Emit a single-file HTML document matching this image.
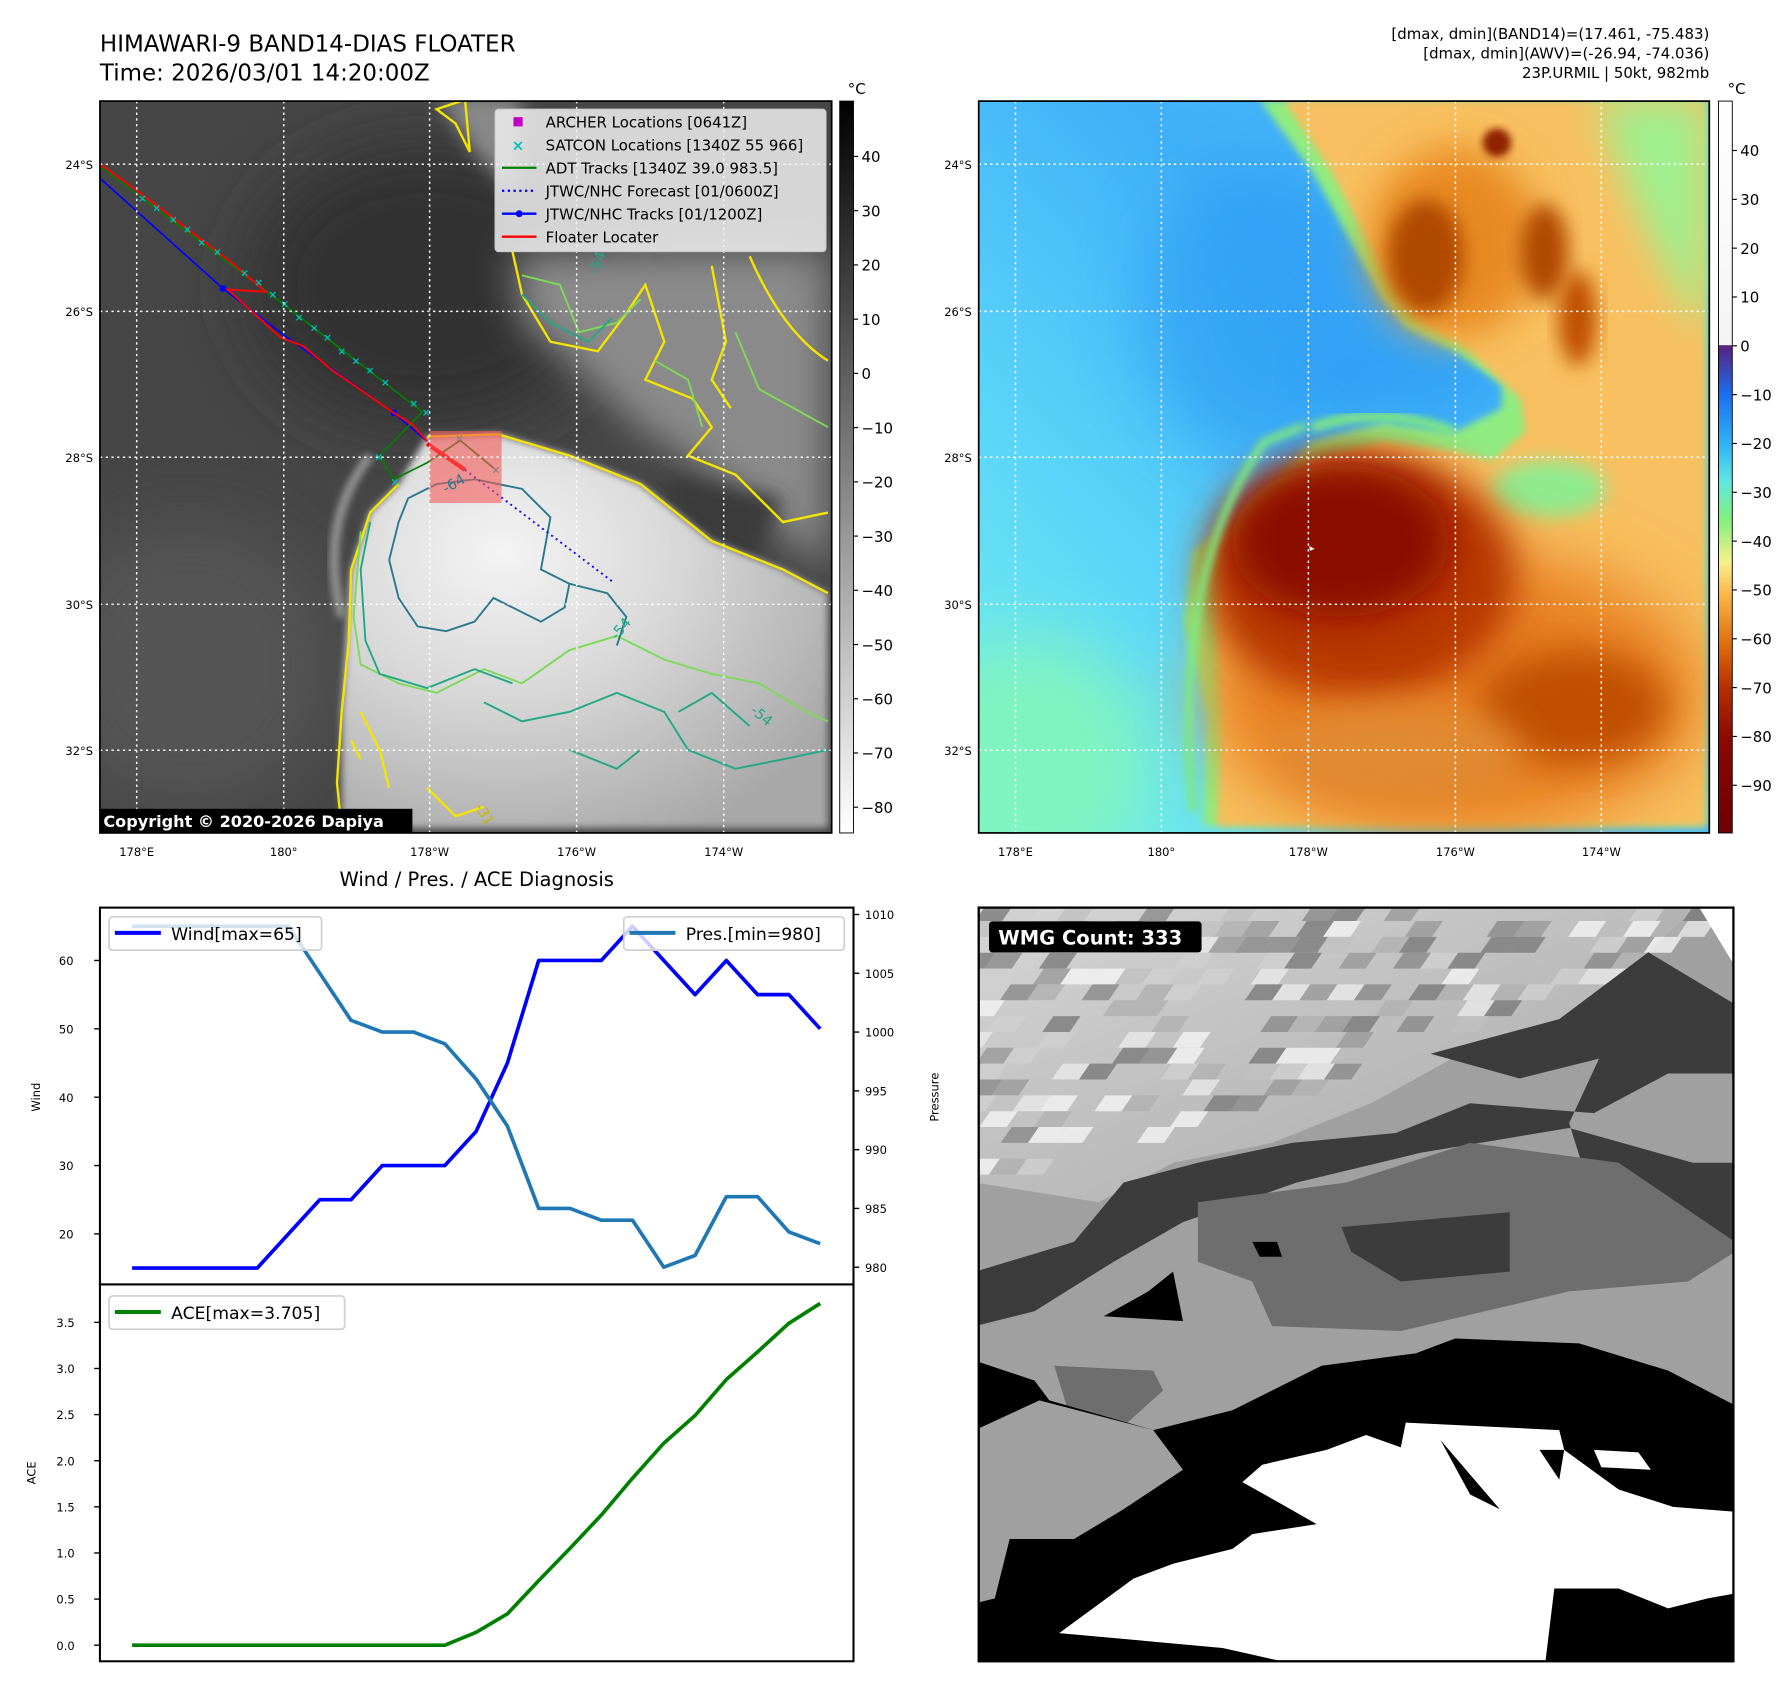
<!DOCTYPE html>
<html><head><meta charset="utf-8">
<style>
html,body{margin:0;padding:0;background:#fff;}
svg{display:block;font-family:"DejaVu Sans","Liberation Sans",sans-serif;}
</style></head>
<body>
<svg id="root" width="1792" height="1690" viewBox="0 0 1560 1471" preserveAspectRatio="none" xmlns="http://www.w3.org/2000/svg">
<defs>
  <filter id="b8" x="-20%" y="-20%" width="140%" height="140%"><feGaussianBlur stdDeviation="8"/></filter>
  <filter id="b20" x="-30%" y="-30%" width="160%" height="160%"><feGaussianBlur stdDeviation="20"/></filter>
  <filter id="b40" x="-30%" y="-30%" width="160%" height="160%"><feGaussianBlur stdDeviation="40"/></filter>
  <filter id="b70" x="-40%" y="-40%" width="180%" height="180%"><feGaussianBlur stdDeviation="70"/></filter>
  <clipPath id="clipL"><rect x="87" y="88" width="637" height="637"/></clipPath>
  <clipPath id="clipR"><rect x="852" y="88" width="636" height="637"/></clipPath>
  <clipPath id="clipW"><rect x="852" y="790" width="657" height="656"/></clipPath>
  <clipPath id="clipTop"><rect x="87" y="790" width="656" height="328"/></clipPath>
  <clipPath id="clipBot"><rect x="87" y="1118" width="656" height="328"/></clipPath>
  <linearGradient id="cbGray" x1="0" y1="0" x2="0" y2="1">
    <stop offset="0" stop-color="#000"/><stop offset="1" stop-color="#fff"/>
  </linearGradient>
  <linearGradient id="cbColor" x1="0" y1="0" x2="0" y2="1">
    <stop offset="0" stop-color="#ffffff"/><stop offset="0.333" stop-color="#f4f4f4"/>
    <stop offset="0.334" stop-color="#5a2080"/>
    <stop offset="0.40" stop-color="#1a6ef0"/>
    <stop offset="0.47" stop-color="#30b4f8"/>
    <stop offset="0.52" stop-color="#60e8e0"/>
    <stop offset="0.57" stop-color="#80f080"/>
    <stop offset="0.63" stop-color="#f8f088"/>
    <stop offset="0.68" stop-color="#f8b040"/>
    <stop offset="0.74" stop-color="#e07010"/>
    <stop offset="0.80" stop-color="#b83000"/>
    <stop offset="0.87" stop-color="#8c0800"/>
    <stop offset="1" stop-color="#700000"/>
  </linearGradient>
  <radialGradient id="stormGray" cx="0.33" cy="0.3" r="0.8">
    <stop offset="0" stop-color="#f4f4f4"/><stop offset="0.45" stop-color="#d8d8d8"/><stop offset="1" stop-color="#a8a8a8"/>
  </radialGradient>
  <linearGradient id="blueBg" x1="0" y1="1" x2="1" y2="0">
    <stop offset="0" stop-color="#78f4e8"/><stop offset="0.3" stop-color="#5ad4f8"/><stop offset="0.6" stop-color="#40b0f8"/><stop offset="1" stop-color="#50bcf8"/>
  </linearGradient>
  <linearGradient id="wmgLight" x1="0" y1="0" x2="1" y2="1">
    <stop offset="0" stop-color="#d6d6d6"/><stop offset="0.5" stop-color="#bdbdbd"/><stop offset="1" stop-color="#a8a8a8"/>
  </linearGradient>
</defs>

<!-- Titles -->
<text x="87" y="45" font-size="20" fill="#000">HIMAWARI-9 BAND14-DIAS FLOATER</text>
<text x="87" y="70" font-size="20" fill="#000">Time: 2026/03/01 14:20:00Z</text>
<g font-size="13" text-anchor="end" fill="#000">
  <text x="1488" y="34">[dmax, dmin](BAND14)=(17.461, -75.483)</text>
  <text x="1488" y="51">[dmax, dmin](AWV)=(-26.94, -74.036)</text>
  <text x="1488" y="68">23P.URMIL | 50kt, 982mb</text>
</g>

<!-- LEFT MAP -->
<g clip-path="url(#clipL)">
  <rect x="87" y="88" width="637" height="637" fill="#464646"/>
  <g transform="translate(82.7,82.7) scale(0.413)">
    <ellipse cx="700" cy="400" rx="380" ry="300" fill="#303030" filter="url(#b70)"/>
    <ellipse cx="200" cy="1200" rx="300" ry="300" fill="#555" filter="url(#b70)"/>
    <path d="M880,330 L1545,330 L1545,1000 L1300,800 L1150,700 L1000,560 L900,480 Z" fill="#8a8a8a" filter="url(#b40)"/>
    <path d="M720,0 L900,0 L880,200 L800,120Z" fill="#888" filter="url(#b20)"/>
    <path d="M1200,800 L1450,850 L1380,1000 L1200,900Z" fill="#3a3a3a" filter="url(#b20)"/>
    <path d="M700,720 L850,715 L1000,760 L1150,820 L1300,940 L1450,1000 L1545,1050 L1545,1545 L520,1545 L520,1300 L540,1000 L580,880 L640,820 Z" fill="url(#stormGray)" filter="url(#b8)"/>
    <path d="M580,760 Q470,900 520,1100" stroke="#9a9a9a" stroke-width="18" fill="none" filter="url(#b8)"/>
    <path d="M700,720 L850,715 L1000,760 L1150,820 L1300,940 L1450,1000 L1545,1050" stroke="#f4e400" stroke-width="5" fill="none"/>
    <path d="M640,820 L580,880 L540,1000 L535,1150 L520,1300 L510,1450 L520,1545" stroke="#f4e400" stroke-width="5" fill="none"/>
    <path d="M720,30 L780,10 L790,120 L760,60 Z M880,330 L900,420 L960,520 L1060,540 L1120,460 L1160,400 L1200,520 L1160,600 L1260,640 L1300,700 L1250,760 L1350,800 L1450,900 L1545,880" stroke="#f4e400" stroke-width="5" fill="none"/>
    <path d="M1380,340 Q1450,500 1545,560 M1300,360 L1330,520 L1300,600 L1340,660" stroke="#f4e400" stroke-width="5" fill="none"/>
    <path d="M560,1300 L600,1380 L620,1460 M540,1360 L560,1400 M700,1460 L760,1520 L820,1500" stroke="#f4e400" stroke-width="5" fill="none"/>
    <path d="M560,920 L545,1100 L560,1200 L640,1240 L720,1260 L820,1210 L900,1240 L1000,1170 L1100,1140 L1200,1190 L1300,1220 L1400,1240 L1500,1300 L1545,1320" stroke="#7ed957" stroke-width="4" fill="none"/>
    <path d="M900,380 L980,400 L1020,500 L1100,480 L1150,430 M1180,560 L1250,600 L1280,700 M1350,500 L1400,620 L1545,700" stroke="#7ed957" stroke-width="4" fill="none"/>
    <path d="M580,900 L560,1000 L570,1150 L600,1220 L700,1250 L800,1210 L880,1240 M820,1280 L900,1320 L1000,1300 L1100,1260 L1200,1300 L1250,1380 L1350,1420 L1450,1400 L1545,1380 M900,420 L960,480 L1040,520 L1090,470 M1000,1380 L1100,1420 L1150,1380 M1230,1300 L1300,1260 L1380,1330" stroke="#22a884" stroke-width="4" fill="none"/>
    <path d="M660,850 L720,820 L800,810 L900,830 L960,890 L940,1000 L1000,1030 L990,1080 L940,1110 L840,1060 L800,1110 L740,1130 L680,1120 L640,1060 L620,980 L640,900 Z" stroke="#2a788e" stroke-width="4" fill="none"/>
    <path d="M1000,1030 L1080,1050 L1120,1100 L1100,1160" stroke="#2a788e" stroke-width="4" fill="none"/>
    <path d="M10,175 L270,408 L390,500 L630,670 L700,730" stroke="#0000ff" stroke-width="3.5" fill="none"/>
    <circle cx="270" cy="408" r="7" fill="#0000ff"/><circle cx="630" cy="670" r="7" fill="#0000ff"/>
    <path d="M10,150 L370,420 L690,668 L600,760 L630,810 L700,775 L770,728 L845,790" stroke="#008000" stroke-width="3.5" fill="none"/>
    <path d="M10,145 L100,210 L290,355 L360,415 L280,410 L390,510 L440,530 L500,580 L630,670 L670,695 L700,730" stroke="#ff0000" stroke-width="4" fill="none"/>
    <path d="M700,735 L780,790" stroke="#ff0000" stroke-width="9"/>
    <path d="M780,790 L1090,1025" stroke="#0000ff" stroke-width="4" stroke-dasharray="4,8" fill="none"/>
    <g fill="#00bfbf" font-size="22" font-weight="bold" text-anchor="middle">
      <text x="100" y="226">×</text><text x="130" y="246">×</text><text x="165" y="270">×</text><text x="195" y="291">×</text><text x="225" y="318">×</text><text x="258" y="338">×</text><text x="315" y="383">×</text><text x="345" y="403">×</text><text x="375" y="428">×</text><text x="400" y="448">×</text><text x="430" y="476">×</text><text x="462" y="498">×</text><text x="490" y="518">×</text><text x="520" y="548">×</text><text x="550" y="568">×</text><text x="580" y="588">×</text><text x="612" y="613">×</text><text x="672" y="658">×</text><text x="698" y="676">×</text><text x="598" y="770">×</text><text x="632" y="823">×</text><text x="768" y="730">×</text><text x="845" y="798">×</text>
    </g>
    <rect x="705" y="708" width="152" height="152" fill="rgba(245,90,90,0.6)"/>
    <text x="740" y="840" font-size="30" fill="#2a788e" transform="rotate(-30 740 840)">-64</text>
    <text x="1060" y="380" font-size="30" fill="#22a884" transform="rotate(-70 1060 380)">-54</text>
    <text x="1100" y="1150" font-size="30" fill="#22a884" transform="rotate(-50 1100 1150)">-54</text>
    <text x="1380" y="1300" font-size="30" fill="#22a884" transform="rotate(40 1380 1300)">-54</text>
    <text x="800" y="1500" font-size="30" fill="#c8b400" transform="rotate(60 800 1500)">-31</text>
  </g>
  <g stroke="#fff" stroke-width="1.3" stroke-dasharray="2,3">
    <line x1="87" x2="724" y1="143" y2="143"/><line x1="87" x2="724" y1="271" y2="271"/><line x1="87" x2="724" y1="398" y2="398"/><line x1="87" x2="724" y1="526" y2="526"/><line x1="87" x2="724" y1="653" y2="653"/>
    <line y1="88" y2="725" x1="119" x2="119"/><line y1="88" y2="725" x1="247" x2="247"/><line y1="88" y2="725" x1="374" x2="374"/><line y1="88" y2="725" x1="502" x2="502"/><line y1="88" y2="725" x1="630" x2="630"/>
  </g>
  <g>
    <rect x="431" y="95" width="288" height="124" rx="3" fill="rgba(240,240,240,0.85)" stroke="#ccc"/>
    <rect x="447" y="102" width="8" height="8" fill="#c000c0"/>
    <text x="451" y="131" font-size="13" font-weight="bold" fill="#00bfbf" text-anchor="middle">×</text>
    <line x1="437" x2="467" y1="146" y2="146" stroke="#008000" stroke-width="2"/>
    <line x1="437" x2="467" y1="166" y2="166" stroke="#0000ff" stroke-width="2" stroke-dasharray="2,3"/>
    <line x1="437" x2="467" y1="186" y2="186" stroke="#0000ff" stroke-width="2"/><circle cx="452" cy="186" r="3" fill="#0000ff"/>
    <line x1="437" x2="467" y1="206" y2="206" stroke="#ff0000" stroke-width="2"/>
    <g font-size="13" fill="#000">
      <text x="475" y="111">ARCHER Locations [0641Z]</text>
      <text x="475" y="131">SATCON Locations [1340Z 55 966]</text>
      <text x="475" y="151">ADT Tracks [1340Z 39.0 983.5]</text>
      <text x="475" y="171">JTWC/NHC Forecast [01/0600Z]</text>
      <text x="475" y="191">JTWC/NHC Tracks [01/1200Z]</text>
      <text x="475" y="211">Floater Locater</text>
    </g>
  </g>
  <rect x="87" y="704" width="272" height="22" fill="#000"/>
  <text x="90" y="720" font-size="14" font-weight="bold" fill="#fff">Copyright © 2020-2026 Dapiya</text>
</g>
<rect x="87" y="88" width="637" height="637" fill="none" stroke="#000" stroke-width="1.5"/>

<g font-size="10" text-anchor="end" fill="#000">
  <text x="81" y="147">24°S</text><text x="81" y="275">26°S</text><text x="81" y="402">28°S</text><text x="81" y="530">30°S</text><text x="81" y="657">32°S</text>
</g>
<g font-size="10" text-anchor="middle" fill="#000">
  <text x="119" y="745">178°E</text><text x="247" y="745">180°</text><text x="374" y="745">178°W</text><text x="502" y="745">176°W</text><text x="630" y="745">174°W</text>
</g>
<g>
  <rect x="731" y="88" width="12" height="637" fill="url(#cbGray)" stroke="#000" stroke-width="0.8"/>
  <text x="738" y="82" font-size="13">°C</text>
  <g id="cbLticks" font-size="13" fill="#000"></g>
</g>

<!-- RIGHT MAP -->
<g clip-path="url(#clipR)">
  <rect x="852" y="88" width="636" height="637" fill="url(#blueBg)"/>
  <g transform="translate(853,87) scale(0.413)">
    <ellipse cx="600" cy="450" rx="260" ry="320" fill="#2a98f4" filter="url(#b70)" opacity="0.6"/>
    <ellipse cx="900" cy="580" rx="200" ry="80" fill="#2a98f4" filter="url(#b40)" opacity="0.5"/>
    <ellipse cx="100" cy="1400" rx="260" ry="260" fill="#80f4c0" filter="url(#b70)"/>
    <path d="M590,0 L1530,0 L1530,1530 L470,1530 L480,1300 L430,1100 L450,950 L520,900 L600,820 L700,720 L850,680 L1000,700 L1100,650 L1100,600 L1000,530 L900,480 L850,420 L800,330 L700,150 Z" fill="#90ec80" filter="url(#b8)"/>
    <path d="M640,0 L1530,0 L1530,1530 L500,1530 L510,1300 L500,1100 L520,940 L600,860 L700,760 L850,720 L1000,740 L1080,760 L1150,700 L1140,630 L1020,520 L930,470 L880,400 L830,320 L740,150 Z" fill="#f8c060" filter="url(#b8)"/>
    <path d="M1300,0 L1530,0 L1530,500 Q1400,300 1300,0Z" fill="#a0f090" filter="url(#b40)"/>
    <ellipse cx="1200" cy="820" rx="120" ry="60" fill="#90ec90" filter="url(#b20)"/>
    <ellipse cx="1000" cy="300" rx="180" ry="200" fill="#e88a20" filter="url(#b40)"/>
    <ellipse cx="940" cy="330" rx="80" ry="120" fill="#b04800" filter="url(#b20)"/>
    <ellipse cx="1190" cy="320" rx="50" ry="100" fill="#b04800" filter="url(#b20)"/>
    <ellipse cx="1090" cy="90" rx="30" ry="30" fill="#902000" filter="url(#b8)"/>
    <ellipse cx="1260" cy="460" rx="40" ry="100" fill="#c05000" filter="url(#b20)"/>
    <ellipse cx="1000" cy="1250" rx="520" ry="300" fill="#e88020" filter="url(#b70)"/>
    <ellipse cx="1250" cy="1280" rx="200" ry="120" fill="#c05000" filter="url(#b40)"/>
    <ellipse cx="800" cy="1000" rx="330" ry="260" fill="#b83800" filter="url(#b40)"/>
    <ellipse cx="760" cy="930" rx="230" ry="160" fill="#8a0800" filter="url(#b40)"/>
    <ellipse cx="880" cy="1380" rx="260" ry="100" fill="#e08a30" filter="url(#b40)"/>
    <path d="M450,1500 Q400,1000 600,720 Q700,680 680,690" stroke="#80e880" stroke-width="16" fill="none" filter="url(#b8)"/>
    <path d="M700,690 Q850,640 1000,700" stroke="#80e880" stroke-width="20" fill="none" filter="url(#b8)"/>
    <path d="M694,940 l12,6 -10,4z" fill="#fff"/>
  </g>
  <g stroke="#fff" stroke-width="1.3" stroke-dasharray="2,3">
    <line x1="852" x2="1488" y1="143" y2="143"/><line x1="852" x2="1488" y1="271" y2="271"/><line x1="852" x2="1488" y1="398" y2="398"/><line x1="852" x2="1488" y1="526" y2="526"/><line x1="852" x2="1488" y1="653" y2="653"/>
    <line y1="88" y2="725" x1="884" x2="884"/><line y1="88" y2="725" x1="1011" x2="1011"/><line y1="88" y2="725" x1="1139" x2="1139"/><line y1="88" y2="725" x1="1267" x2="1267"/><line y1="88" y2="725" x1="1394" x2="1394"/>
  </g>
</g>
<rect x="852" y="88" width="636" height="637" fill="none" stroke="#000" stroke-width="1.5"/>
<g font-size="10" text-anchor="end" fill="#000">
  <text x="846" y="147">24°S</text><text x="846" y="275">26°S</text><text x="846" y="402">28°S</text><text x="846" y="530">30°S</text><text x="846" y="657">32°S</text>
</g>
<g font-size="10" text-anchor="middle" fill="#000">
  <text x="884" y="745">178°E</text><text x="1011" y="745">180°</text><text x="1139" y="745">178°W</text><text x="1267" y="745">176°W</text><text x="1394" y="745">174°W</text>
</g>
<g>
  <rect x="1496" y="88" width="12" height="637" fill="url(#cbColor)" stroke="#000" stroke-width="0.8"/>
  <text x="1504" y="82" font-size="13">°C</text>
  <g id="cbRticks" font-size="13" fill="#000"></g>
</g>

<!-- DIAGNOSIS CHART -->
<text x="415" y="771" font-size="17" text-anchor="middle">Wind / Pres. / ACE Diagnosis</text>
<g id="chartTop"></g>
<g id="chartBot"></g>

<!-- WMG -->
<g clip-path="url(#clipW)">
  <rect x="852" y="790" width="657" height="656" fill="#a0a0a0"/>
  <g transform="translate(848.8,787.9) scale(0.431)">
    <path d="M0,0 L1460,0 L1360,95 L1200,230 L1000,290 L800,400 L600,480 L400,520 L250,600 L0,560 Z" fill="url(#wmgLight)"/>
    <g id="wmgCells"></g>
    <path d="M1360,95 L1535,200 L1535,340 L1400,340 L1250,420 L1000,400 L850,460 L640,480 L450,520 L300,560 L200,680 L0,740 L0,850 L120,820 L280,720 L420,640 L650,560 L900,500 L1200,450 L1450,520 L1535,520 L1535,690 L1450,700 L1250,600 L1200,440 Z" fill="#3c3c3c"/>
    <path d="M1180,230 L1360,95 L1420,200 L1300,300 L1100,350 L920,300 Z" fill="#3c3c3c"/>
    <path d="M450,600 L750,560 L1000,480 L1300,520 L1535,680 L1535,700 L1440,760 L1200,780 L860,860 L600,850 L560,760 L450,720 Z" fill="#6e6e6e"/>
    <path d="M740,650 L1080,620 L1080,740 L860,760 L760,700Z" fill="#3c3c3c"/>
    <path d="M160,930 L360,940 L380,980 L280,1070 L200,1060 Z" fill="#6e6e6e"/>
    <path d="M0,920 L120,960 L150,1000 L360,1060 L520,1020 L700,930 L890,905 L970,875 L1220,885 L1400,940 L1535,1010 L1535,1545 L0,1545 Z" fill="#000"/>
    <path d="M0,1060 L130,1000 L360,1060 L420,1140 L300,1220 L200,1280 L70,1280 L40,1400 L0,1410 Z" fill="#a0a0a0"/>
    <path d="M260,830 L420,840 L400,740 L350,780 Z M560,680 L610,680 L620,710 L575,710Z" fill="#000"/>
    <path d="M870,1045 L1180,1060 L1190,1100 L1300,1180 L1410,1215 L1535,1225 L1535,1390 L1480,1400 L1400,1420 L1300,1380 L1170,1380 L1150,1545 L700,1545 L500,1500 L170,1470 L320,1360 L400,1330 L520,1300 L560,1270 L690,1250 L620,1210 L540,1165 L580,1130 L710,1100 L790,1070 L860,1095 Z" fill="#fff"/>
    <path d="M1250,1100 L1340,1105 L1365,1140 L1265,1135Z M1460,0 L1545,0 L1545,140 Z" fill="#fff"/>
    <path d="M940,1080 L1000,1190 L1060,1220 L1000,1150 Z M1140,1100 L1180,1160 L1190,1100Z" fill="#000"/>
  </g>
  <rect x="861" y="802" width="185" height="27" rx="3" fill="#000"/>
  <text x="869" y="822" font-size="17" font-weight="bold" fill="#fff">WMG Count: 333</text>
</g>
<rect x="852" y="790" width="657" height="656" fill="none" stroke="#000" stroke-width="2"/>

<script>
// ===== chart data =====
const wind = [15,15,15,15,15,20,25,25,30,30,30,35,45,60,60,60,65,60,55,60,55,55,50];
const pressure = [1009,1009,1009,1009,1009,1009,1005,1001,1000,1000,999,996,992,985,985,984,984,980,981,986,986,983,982];
const ace = [0,0,0,0,0,0,0,0,0,0,0,0.14,0.34,0.7,1.05,1.41,1.81,2.19,2.49,2.88,3.18,3.49,3.705];
const windTicks = [20,30,40,50,60];
const presTicks = [980,985,990,995,1000,1005,1010];
const aceTicks = [0.0,0.5,1.0,1.5,2.0,2.5,3.0,3.5];
const grayCbTicks = [40,30,20,10,0,-10,-20,-30,-40,-50,-60,-70,-80];
const colorCbTicks = [40,30,20,10,0,-10,-20,-30,-40,-50,-60,-70,-80,-90];

const NS = 'http://www.w3.org/2000/svg';
function mk(tag, attrs, parent){ const e=document.createElementNS(NS,tag); for(const k in attrs) e.setAttribute(k, attrs[k]); parent.appendChild(e); return e; }

const xAt = i => 115 + i * (714-115)/(wind.length-1);
const yWind = v => 836 + (60 - v) * (1074-836)/40;
const yPres = v => 796 + (1010 - v) * (1103-796)/30;
const yAce = v => 1432 - v * (1432-1151)/3.5;
const yGrayCb = v => 325 - v * 4.72;
const yColorCb = v => 301 - v * 4.25;

const cbL = document.getElementById('cbLticks');
grayCbTicks.forEach(v=>{
  const y=yGrayCb(v);
  mk('line',{x1:743,x2:747,y1:y,y2:y,stroke:'#000'},cbL);
  const t=mk('text',{x:750,y:y+5},cbL); t.textContent = v<0 ? '\u2212'+(-v) : String(v);
  
  
});
const cbR = document.getElementById('cbRticks');
colorCbTicks.forEach(v=>{
  const y=yColorCb(v);
  mk('line',{x1:1508,x2:1512,y1:y,y2:y,stroke:'#000'},cbR);
  const t=mk('text',{x:1515,y:y+5},cbR); t.textContent = v<0 ? '\u2212'+(-v) : String(v);
  
  
});

const chartTopG = document.getElementById('chartTop');
mk('rect',{x:87,y:790,width:656,height:328,fill:'#fff'},chartTopG);
const gT = mk('g',{'clip-path':'url(#clipTop)'},chartTopG);
const windPath = mk('path',{d:wind.map((v,i)=>(i?'L':'M')+xAt(i)+','+yWind(v)).join(' '),stroke:'#0000ff','stroke-width':3.2,fill:'none','stroke-linejoin':'round'},gT);


const presPath = mk('path',{d:pressure.map((v,i)=>(i?'L':'M')+xAt(i)+','+yPres(v)).join(' '),stroke:'#1f77b4','stroke-width':3.2,fill:'none','stroke-linejoin':'round'},gT);


mk('rect',{x:87,y:790,width:656,height:328,fill:'none',stroke:'#000','stroke-width':1.8},chartTopG);
windTicks.forEach(v=>{
  const y=yWind(v);
  mk('line',{x1:82,x2:87,y1:y,y2:y,stroke:'#000','stroke-width':1.2},chartTopG);
  const t=mk('text',{x:64,y:y+4,'font-size':10,'text-anchor':'end'},chartTopG); t.textContent=v;
  
  
});
presTicks.forEach(v=>{
  const y=yPres(v);
  mk('line',{x1:743,x2:748,y1:y,y2:y,stroke:'#000','stroke-width':1.2},chartTopG);
  const t=mk('text',{x:753,y:y+4,'font-size':10},chartTopG); t.textContent=v;
  
  
});
const t1=mk('text',{x:0,y:0,'font-size':10,'text-anchor':'middle',transform:'translate(35,955) rotate(-90)'},chartTopG); t1.textContent='Wind';


const t2=mk('text',{x:0,y:0,'font-size':10,'text-anchor':'middle',transform:'translate(817,955) rotate(-90)'},chartTopG); t2.textContent='Pressure';


const lw = mk('g',{},chartTopG);


mk('rect',{x:95,y:798,width:185,height:29,rx:3,fill:'rgba(255,255,255,0.8)',stroke:'#d0d0d0','stroke-width':1.5},lw);
mk('line',{x1:100,x2:140,y1:812,y2:812,stroke:'#0000ff','stroke-width':3.5},lw);
const lt=mk('text',{x:149,y:818,'font-size':15},lw); lt.textContent='Wind[max=65]';
const lp = mk('g',{},chartTopG);


mk('rect',{x:543,y:798,width:192,height:29,rx:3,fill:'rgba(255,255,255,0.8)',stroke:'#d0d0d0','stroke-width':1.5},lp);
mk('line',{x1:548,x2:588,y1:812,y2:812,stroke:'#1f77b4','stroke-width':3.5},lp);
const lpt=mk('text',{x:597,y:818,'font-size':15},lp); lpt.textContent='Pres.[min=980]';

const chartBotG = document.getElementById('chartBot');
mk('rect',{x:87,y:1118,width:656,height:328,fill:'#fff'},chartBotG);
const gB = mk('g',{'clip-path':'url(#clipBot)'},chartBotG);
const acePath = mk('path',{d:ace.map((v,i)=>(i?'L':'M')+xAt(i)+','+yAce(v)).join(' '),stroke:'#008000','stroke-width':3.2,fill:'none','stroke-linejoin':'round'},gB);


mk('rect',{x:87,y:1118,width:656,height:328,fill:'none',stroke:'#000','stroke-width':1.8},chartBotG);
aceTicks.forEach(v=>{
  const y=yAce(v);
  mk('line',{x1:82,x2:87,y1:y,y2:y,stroke:'#000','stroke-width':1.2},chartBotG);
  const t=mk('text',{x:65,y:y+4,'font-size':10,'text-anchor':'end'},chartBotG); t.textContent=v.toFixed(1);
  
  
});
const t3=mk('text',{x:0,y:0,'font-size':10,'text-anchor':'middle',transform:'translate(31,1282) rotate(-90)'},chartBotG); t3.textContent='ACE';


const la = mk('g',{},chartBotG);


mk('rect',{x:95,y:1128,width:205,height:29,rx:3,fill:'rgba(255,255,255,0.8)',stroke:'#d0d0d0','stroke-width':1.5},la);
mk('line',{x1:100,x2:140,y1:1142,y2:1142,stroke:'#008000','stroke-width':3.5},la);
const lat=mk('text',{x:149,y:1148,'font-size':15},la); lat.textContent='ACE[max=3.705]';

// WMG texture cells (image texture, not chart data)
const cells = document.getElementById('wmgCells');
const grays=['#e8e8e8','#d0d0d0','#c0c0c0','#b0b0b0','#9a9a9a','#8a8a8a','#f4f4f4','#7a7a7a'];
let seed=7;
function rnd(){ seed=(seed*16807)%2147483647; return seed/2147483647; }
for(let r=0;r<18;r++){
  for(let c=0;c<30;c++){
    const x=c*55 - r*12, y=r*32;
    const lim = 560 - x*0.32;
    if(y>lim) continue;
    if(rnd()<0.55){
      mk('path',{d:`M${x},${y+32} L${x+22},${y} L${x+77},${y} L${x+55},${y+32} Z`,fill:grays[Math.floor(rnd()*grays.length)],opacity:0.8},cells);
    }
  }
}
</script>
</svg>
</body></html>
